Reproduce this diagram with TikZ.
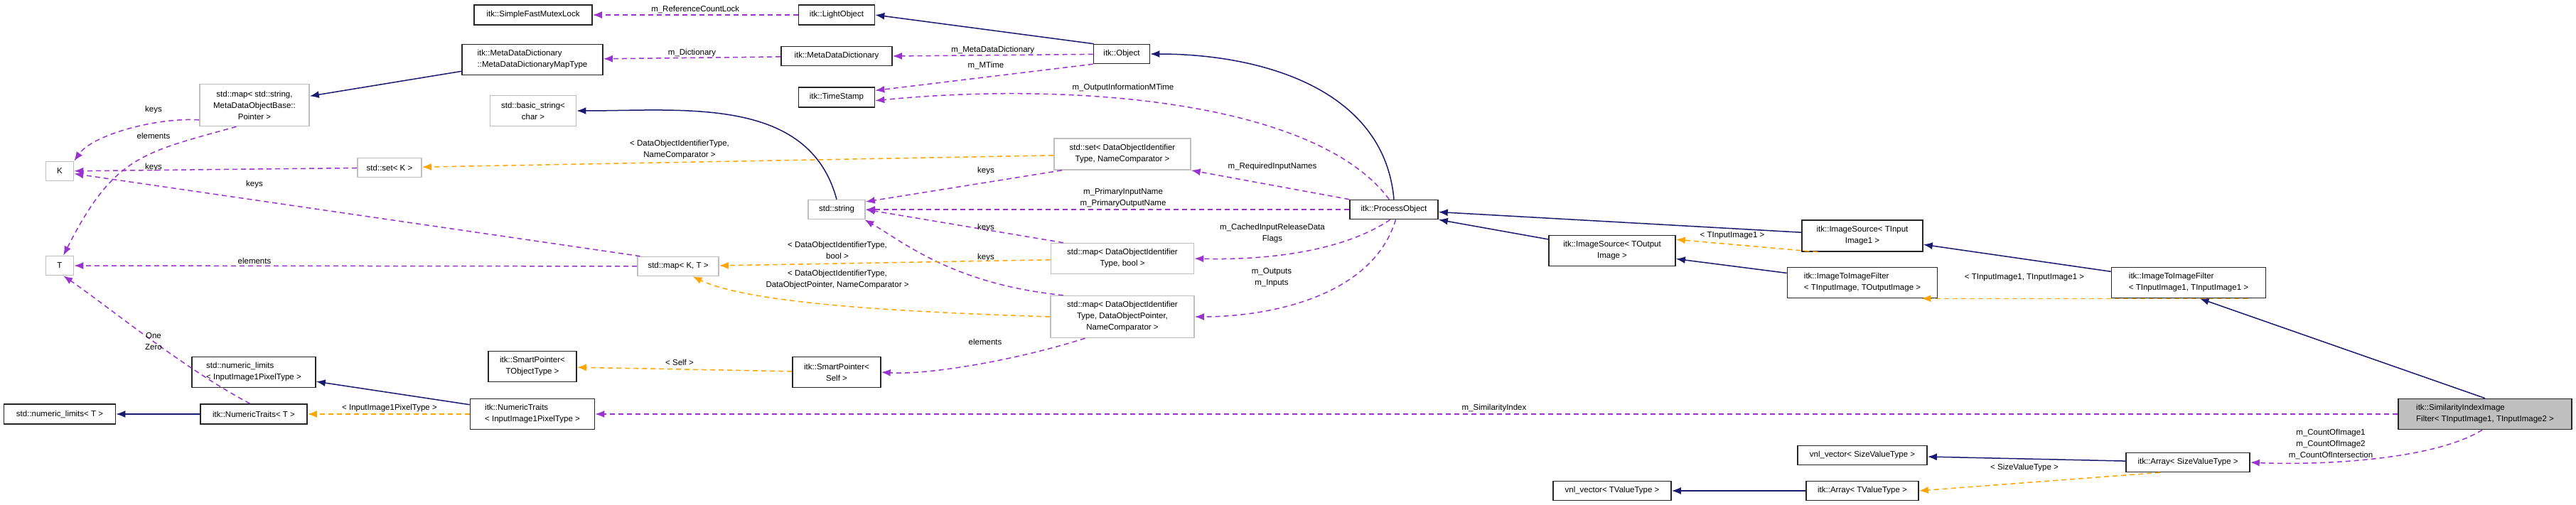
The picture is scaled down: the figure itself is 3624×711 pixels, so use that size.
\documentclass[tikz,border=0pt]{standalone}
\usepackage{fontspec}
\setmainfont{Liberation Sans}
\usetikzlibrary{arrows.meta}
\definecolor{inhc}{HTML}{191970}
\definecolor{usec}{HTML}{9A32CD}
\definecolor{tplc}{HTML}{FFA500}
\definecolor{grayb}{HTML}{BFBFBF}
\tikzset{
  base/.style={font=\fontsize{11.5}{16}\selectfont, inner sep=0pt, align=center},
  bbox/.style={base, draw=black!85, line width=1.6pt, fill=white},
  gbox/.style={base, draw=grayb, line width=1.6pt, fill=white},
  lbl/.style={font=\fontsize{11.5}{16}\selectfont, inner sep=0pt, align=center},
  tip/.style={-{Latex[length=13pt,width=10pt]}},
  inh/.style={tip, draw=inhc, line width=1.5pt},
  use/.style={tip, draw=usec, line width=1.5pt, dash pattern=on 7pt off 5pt},
  tpl/.style={tip, draw=tplc, line width=1.5pt, dash pattern=on 7pt off 5pt},
}
\begin{document}
\begin{tikzpicture}[x=1pt,y=-1pt]
\useasboundingbox (0,0) rectangle (3624,711);
% nodes
\node[bbox, minimum width=166, minimum height=28] (mutex) at (750,21) {itk::SimpleFastMutexLock};
\node[bbox, minimum width=198, minimum height=43, align=left] (mddmap) at (749,84) {itk::MetaDataDictionary\\::MetaDataDictionaryMapType};
\node[gbox, minimum width=154, minimum height=59] (mapstr) at (358,148) {std::map< std::string,\\ MetaDataObjectBase::\\Pointer >};
\node[gbox, minimum width=121, minimum height=43] (bstr) at (750,156) {std::basic\_string<\\char >};
\node[gbox, minimum width=39, minimum height=27] (K) at (84,241) {K};
\node[gbox, minimum width=90, minimum height=27] (setK) at (548,236) {std::set< K >};
\node[gbox, minimum width=39, minimum height=27] (T) at (84,374) {T};
\node[bbox, minimum width=174, minimum height=43, align=left] (nlI) at (357,524) {std::numeric\_limits\\< InputImage1PixelType >};
\node[bbox, minimum width=157, minimum height=28] (nlT) at (84,583) {std::numeric\_limits< T >};
\node[bbox, minimum width=150, minimum height=28] (ntT) at (357,583) {itk::NumericTraits< T >};
\node[bbox, minimum width=124, minimum height=43] (spT) at (749,516) {itk::SmartPointer<\\TObjectType >};
\node[bbox, minimum width=175, minimum height=43, align=left] (ntI) at (749,583) {itk::NumericTraits\\< InputImage1PixelType >};
\node[bbox, minimum width=107, minimum height=28] (light) at (1177,21) {itk::LightObject};
\node[bbox, minimum width=156, minimum height=27] (mdd) at (1177,79) {itk::MetaDataDictionary};
\node[bbox, minimum width=107, minimum height=28] (ts) at (1177,137) {itk::TimeStamp};
\node[gbox, minimum width=80, minimum height=27] (str) at (1177,295) {std::string};
\node[gbox, minimum width=114, minimum height=27] (mapKT) at (954,375) {std::map< K, T >};
\node[bbox, minimum width=124, minimum height=43] (spS) at (1177,524) {itk::SmartPointer<\\Self >};
\node[bbox, minimum width=79, minimum height=27] (obj) at (1578,76) {itk::Object};
\node[gbox, minimum width=192, minimum height=44] (setD) at (1579,217) {std::set< DataObjectIdentifier\\Type, NameComparator >};
\node[bbox, minimum width=124, minimum height=27] (po) at (1961,295) {itk::ProcessObject};
\node[gbox, minimum width=201, minimum height=43] (mapB) at (1579,364) {std::map< DataObjectIdentifier\\Type, bool >};
\node[gbox, minimum width=202, minimum height=59] (mapD) at (1579,446) {std::map< DataObjectIdentifier\\Type, DataObjectPointer,\\NameComparator >};
\node[bbox, minimum width=178, minimum height=43] (isO) at (2268,353) {itk::ImageSource< TOutput\\Image >};
\node[bbox, minimum width=170, minimum height=44] (isI) at (2620,332) {itk::ImageSource< TInput\\Image1 >};
\node[bbox, minimum width=211, minimum height=43, align=left] (itifO) at (2620,398) {itk::ImageToImageFilter\\< TInputImage, TOutputImage >};
\node[bbox, minimum width=182, minimum height=27] (vnlS) at (2620,641) {vnl\_vector< SizeValueType >};
\node[bbox, minimum width=166, minimum height=27] (vnlT) at (2268,691) {vnl\_vector< TValueType >};
\node[bbox, minimum width=158, minimum height=27] (arrT) at (2620,691) {itk::Array< TValueType >};
\node[bbox, minimum width=217, minimum height=43, align=left] (itifI) at (3079,398) {itk::ImageToImageFilter\\< TInputImage1, TInputImage1 >};
\node[bbox, fill=grayb, minimum width=244, minimum height=43, align=left] (sim) at (3496,583) {itk::SimilarityIndexImage\\Filter< TInputImage1, TInputImage2 >};
\node[bbox, minimum width=174, minimum height=27] (arrS) at (3078,651) {itk::Array< SizeValueType >};
% inheritance
\draw[inh] (obj.160) -- (light.east);
\draw[inh] (mddmap) -- (mapstr);
\draw[inh] (str.north) to[out=105,in=0] (bstr.east);
\draw[inh] (po.north) to[out=95,in=0] (obj.east);
\draw[inh] (isI) -- (po);
\draw[inh] (isO) -- (po.south east);
\draw[inh] (itifO) -- (isO);
\draw[inh] (itifI) -- (isI);
\draw[inh] (sim.north) -- (itifI.-55);
\draw[inh] (ntT) -- (nlT);
\draw[inh] (ntI) -- (nlI);
\draw[inh] (arrS) -- (vnlS);
\draw[inh] (arrT) -- (vnlT);
% usage
\draw[use] (light) -- (mutex) node[lbl, pos=0.5, above=1pt] {m\_ReferenceCountLock};
\draw[use] (mdd) -- (mddmap) node[lbl, pos=0.5, above=1pt] {m\_Dictionary};
\draw[use] (obj) -- (mdd.east) node[lbl, pos=0.5, above=1pt] {m\_MetaDataDictionary};
\draw[use] (obj.south west) -- (ts.10);
\node[lbl] (lmt) at (1387,92) {m\_MTime};
\draw[use] (po.115) .. controls (1850,140) and (1500,115) .. (ts.-5);
\node[lbl] (loim) at (1580,124) {m\_OutputInformationMTime};
\draw[use] (po.north west) -- (setD.south east);
\node[lbl] (lrin) at (1790,235) {m\_RequiredInputNames};
\draw[use] (po) -- (str);
\node[lbl] (lpin) at (1580,279) {m\_PrimaryInputName\\m\_PrimaryOutputName};
\draw[use] (po.-110) .. controls (1880,360) and (1760,366) .. (mapB.east);
\node[lbl] (lcir) at (1790,329) {m\_CachedInputReleaseData\\Flags};
\draw[use] (po.-80) .. controls (1930,420) and (1780,446) .. (mapD.east);
\node[lbl] (lio) at (1789,391) {m\_Outputs\\m\_Inputs};
\draw[use] (setD.-165) -- (str.15);
\node[lbl] (lk1) at (1387,241) {keys};
\draw[use] (mapB.165) -- (str.east);
\node[lbl] (lk2) at (1387,321) {keys};
\draw[use] (mapD.160) .. controls (1340,400) and (1270,340) .. (str.-20);
\node[lbl] (lk3) at (1387,363) {keys};
\draw[use] (mapD.-150) .. controls (1420,510) and (1300,528) .. (spS.east);
\node[lbl] (lel) at (1386,481) {elements};
\draw[use] (mapstr.-165) .. controls (220,165) and (130,190) .. (K.north east);
\node[lbl] (lk4) at (216,155) {keys};
\draw[use] (mapstr.-130) .. controls (200,215) and (160,220) .. (T.70);
\node[lbl] (lel2) at (216,191) {elements};
\draw[use] (setK) -- (K);
\node[lbl] (lk5) at (216,236) {keys};
\draw[use] (mapKT.165) -- (K.-10);
\node[lbl] (lk6) at (358,260) {keys};
\draw[use] (mapKT) -- (T);
\node[lbl] (lel3) at (358,367) {elements};
\draw[use] (sim) -- (ntI);
\node[lbl] (lsi) at (2102,575) {m\_SimilarityIndex};
\draw[use] (sim.-100) .. controls (3420,650) and (3250,655) .. (arrS.east);
\node[lbl] (lcnt) at (3279,625) {m\_CountOfImage1\\m\_CountOfImage2\\m\_CountOfIntersection};
\draw[use] (ntT.110) .. controls (260,520) and (150,430) .. (T.-70);
\node[lbl] (loz) at (216,481) {One\\Zero};
% template
\draw[tpl] (setD) -- (setK);
\node[lbl] (lt1) at (956,211) {< DataObjectIdentifierType,\\NameComparator >};
\draw[tpl] (mapB) -- (mapKT);
\node[lbl] (lt2) at (1178,352) {< DataObjectIdentifierType,\\bool >};
\draw[tpl] (mapD.west) .. controls (1300,440) and (1060,430) .. (mapKT.-35);
\node[lbl] (lt3) at (1178,394) {< DataObjectIdentifierType,\\DataObjectPointer, NameComparator >};
\draw[tpl] (spS) -- (spT);
\node[lbl] (lt4) at (956,510) {< Self >};
\draw[tpl] (ntI) -- (ntT);
\node[lbl] (lt5) at (548,575) {< InputImage1PixelType >};
\draw[tpl] (isI.-160) -- (isO.10);
\node[lbl] (lt6) at (2437,332) {< TInputImage1 >};
\draw[tpl] (itifI.-15) -- (itifO.-15);
\node[lbl] (lt7) at (2848,391) {< TInputImage1, TInputImage1 >};
\draw[tpl] (arrS.-160) -- (arrT.east);
\node[lbl] (lt8) at (2848,659) {< SizeValueType >};
\end{tikzpicture}
\end{document}
